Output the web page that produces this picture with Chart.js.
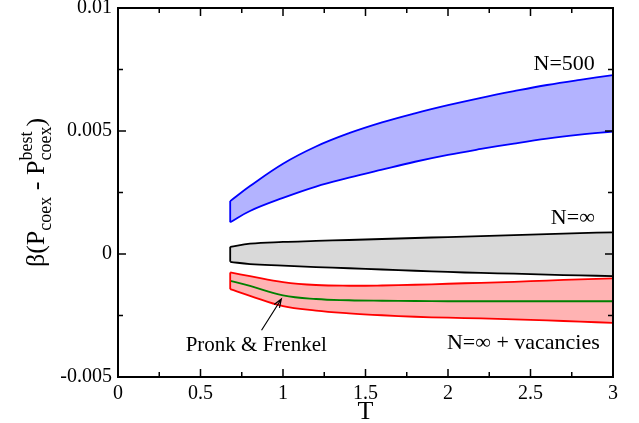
<!DOCTYPE html>
<html>
<head>
<meta charset="utf-8">
<script src="https://cdn.jsdelivr.net/npm/chart.js@4/dist/chart.umd.min.js"></script>
<style>
  html, body { margin: 0; padding: 0; background: #fff; }
  #wrap { width: 639px; height: 423px; }
</style>
</head>
<body>
<div id="wrap"><canvas id="chart" width="639" height="423"></canvas></div>
<script>
// temperatures shared by every band
const T = [0.68, 0.8, 1.0, 1.2, 1.4, 1.6, 1.8, 2.0, 2.2, 2.4, 2.6, 2.8, 3.0];

// N=500 band
const n500Upper = [0.00215, 0.00276, 0.00367, 0.00437, 0.00491, 0.00535, 0.00572, 0.00605, 0.00635, 0.00662, 0.00687, 0.00708, 0.00727];
const n500Lower = [0.00129, 0.00175, 0.00228, 0.00274, 0.00310, 0.00343, 0.00375, 0.00403, 0.00427, 0.00449, 0.00469, 0.00485, 0.00498];

// N=inf band
const infUpper = [0.00029, 0.00042, 0.00049, 0.00053, 0.00057, 0.00061, 0.00065, 0.00069, 0.00073, 0.00077, 0.00081, 0.00085, 0.00088];
const infLower = [-0.00032, -0.00041, -0.00047, -0.00053, -0.00058, -0.00063, -0.00068, -0.00073, -0.00077, -0.00080, -0.00084, -0.00087, -0.00090];

// N=inf + vacancies band
const vacUpper = [-0.00075, -0.00090, -0.00114, -0.00126, -0.00129, -0.00128, -0.00125, -0.00121, -0.00117, -0.00113, -0.00108, -0.00103, -0.00099];
const vacLower = [-0.00143, -0.00170, -0.00212, -0.00230, -0.00241, -0.00249, -0.00255, -0.00259, -0.00262, -0.00266, -0.00270, -0.00275, -0.00280];

// Pronk & Frenkel
const pronk = [-0.00109, -0.00130, -0.00168, -0.00183, -0.00188, -0.00190, -0.00191, -0.00192, -0.00192, -0.00192, -0.00192, -0.00192, -0.00192];

const xTickLabels = ['0', '0.5', '1', '1.5', '2', '2.5', '3'];
const yTickLabels = ['-0.005', '0', '0.005', '0.01'];

const SERIF = '"Liberation Serif", "Times New Roman", serif';

function pts(ys) {
  return T.map((t, i) => ({ x: t, y: ys[i] }));
}
function edge(up, lo) {
  return [{ x: T[0], y: up[0] }, { x: T[0], y: lo[0] }];
}

function band(up, lo, stroke, fillCol) {
  return [
    { data: pts(up), borderColor: stroke, backgroundColor: fillCol, fill: '+1', borderWidth: 1.8, tension: 0.4 },
    { data: pts(lo), borderColor: stroke, fill: false, borderWidth: 1.8, tension: 0.4 },
    { data: edge(up, lo), borderColor: stroke, fill: false, borderWidth: 1.8, tension: 0 }
  ];
}

const labels = [
  { text: 'N=500', x: 2.89, y: 0.00773, align: 'right', size: 22 },
  { text: 'N=\u221E', x: 2.89, y: 0.00146, align: 'right', size: 22 },
  { text: 'N=\u221E + vacancies', x: 2.92, y: -0.00363, align: 'right', size: 22 },
  { text: 'Pronk & Frenkel', x: 0.41, y: -0.00371, align: 'left', size: 21 }
];
const arrowFrom = { x: 0.87, y: -0.0031 };
const arrowTo = { x: 0.99, y: -0.00183 };

const decor = {
  id: 'decor',
  afterDraw(chart) {
    const ctx = chart.ctx;
    const a = chart.chartArea;
    const xs = chart.scales.x, ys = chart.scales.y;
    ctx.save();
    ctx.strokeStyle = '#000';
    ctx.lineWidth = 2;
    ctx.strokeRect(a.left, a.top, a.right - a.left, a.bottom - a.top);

    // inward ticks on all four sides
    ctx.lineWidth = 1.5;
    ctx.beginPath();
    for (let v = 0; v <= 3.0001; v += 0.25) {
      const px = xs.getPixelForValue(v);
      const len = Math.abs(v / 0.5 - Math.round(v / 0.5)) < 1e-6 ? 8 : 5;
      ctx.moveTo(px, a.bottom); ctx.lineTo(px, a.bottom - len);
      ctx.moveTo(px, a.top); ctx.lineTo(px, a.top + len);
    }
    for (let k = -2; k <= 4; k++) {
      const v = k * 0.0025;
      const py = ys.getPixelForValue(v);
      const len = k % 2 === 0 ? 8 : 5;
      ctx.moveTo(a.left, py); ctx.lineTo(a.left + len, py);
      ctx.moveTo(a.right, py); ctx.lineTo(a.right - len, py);
    }
    ctx.stroke();

    // text labels
    ctx.fillStyle = '#000';
    ctx.textBaseline = 'middle';
    labels.forEach(l => {
      ctx.font = l.size + 'px ' + SERIF;
      ctx.textAlign = l.align;
      ctx.fillText(l.text, xs.getPixelForValue(l.x), ys.getPixelForValue(l.y));
    });

    // arrow
    const x0 = xs.getPixelForValue(arrowFrom.x), y0 = ys.getPixelForValue(arrowFrom.y);
    const x1 = xs.getPixelForValue(arrowTo.x), y1 = ys.getPixelForValue(arrowTo.y);
    const ang = Math.atan2(y1 - y0, x1 - x0);
    ctx.lineWidth = 1.2;
    ctx.beginPath();
    ctx.moveTo(x0, y0); ctx.lineTo(x1, y1);
    ctx.moveTo(x1 - 9 * Math.cos(ang - 0.35), y1 - 9 * Math.sin(ang - 0.35));
    ctx.lineTo(x1, y1);
    ctx.lineTo(x1 - 9 * Math.cos(ang + 0.35), y1 - 9 * Math.sin(ang + 0.35));
    ctx.stroke();

    // x title
    ctx.font = '26px ' + SERIF;
    ctx.textAlign = 'center';
    ctx.fillText('T', (a.left + a.right) / 2, 412);

    // y title with sub/superscripts
    const segs = [
      { t: '\u03B2(P', f: 26, dy: 0 },
      { t: 'coex', f: 18, dy: 7 },
      { t: ' - P', f: 26, dy: 0 },
      { t: 'coex', f: 18, dy: 7, sup: 'best', supDy: -12 },
      { t: ')', f: 26, dy: 0 }
    ];
    let total = 0;
    segs.forEach(s => {
      ctx.font = s.f + 'px ' + SERIF;
      s.w = ctx.measureText(s.t).width;
      if (s.sup) s.w = Math.max(s.w, ctx.measureText(s.sup).width);
      total += s.w;
    });
    ctx.translate(44, (a.top + a.bottom) / 2);
    ctx.rotate(-Math.PI / 2);
    ctx.textAlign = 'left';
    ctx.textBaseline = 'alphabetic';
    let cx = -total / 2;
    segs.forEach(s => {
      ctx.font = s.f + 'px ' + SERIF;
      ctx.fillText(s.t, cx, s.dy);
      if (s.sup) ctx.fillText(s.sup, cx, s.supDy);
      cx += s.w;
    });
    ctx.restore();
  }
};

new Chart(document.getElementById('chart'), {
  type: 'scatter',
  data: {
    datasets: [
      ...band(n500Upper, n500Lower, '#0000ff', '#b3b3ff'),
      ...band(infUpper, infLower, '#000000', '#d9d9d9'),
      ...band(vacUpper, vacLower, '#ff0000', '#ffb3b3'),
      { data: pts(pronk), borderColor: '#008000', fill: false, borderWidth: 1.8, tension: 0.4 }
    ]
  },
  options: {
    responsive: false,
    animation: false,
    showLine: true,
    elements: { point: { radius: 0, hoverRadius: 0 } },
    layout: { padding: { top: 8, right: 26, left: 0, bottom: 0 } },
    plugins: {
      legend: { display: false },
      tooltip: { enabled: false },
      filler: { drawTime: 'beforeDatasetsDraw' }
    },
    scales: {
      x: {
        type: 'linear', min: 0, max: 3,
        grid: { display: false, drawTicks: false },
        border: { display: false },
        ticks: {
          stepSize: 0.5, padding: 5, color: '#000', maxRotation: 0,
          font: { family: SERIF, size: 20 },
          callback: (v, i) => xTickLabels[i]
        },
        afterFit(s) { s.height = 46; s.paddingLeft = 0; s.paddingRight = 0; }
      },
      y: {
        type: 'linear', min: -0.005, max: 0.01,
        grid: { display: false, drawTicks: false },
        border: { display: false },
        ticks: {
          stepSize: 0.005, padding: 6, color: '#000',
          font: { family: SERIF, size: 20 },
          callback: (v, i) => yTickLabels[i]
        },
        afterFit(s) { s.width = 118; s.paddingTop = 0; s.paddingBottom = 0; }
      }
    }
  },
  plugins: [decor]
});
</script>
</body>
</html>
